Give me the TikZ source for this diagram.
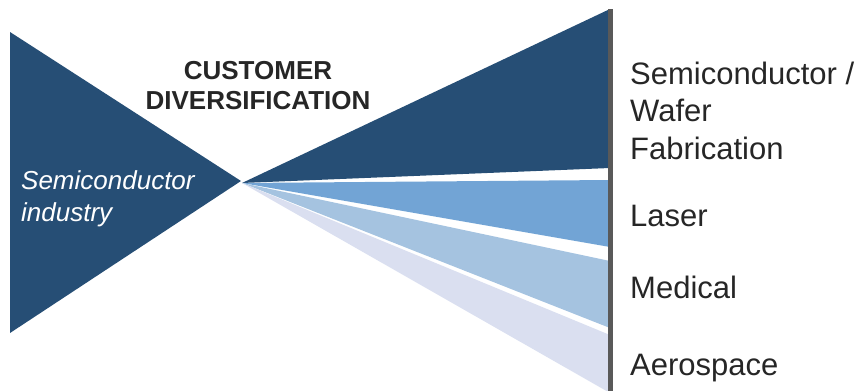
\documentclass[tikz,border=0pt]{standalone}
\usepackage{fontspec}
\setmainfont{Liberation Sans}
\definecolor{navy}{RGB}{38,78,117}
\definecolor{skyblue}{RGB}{114,164,213}
\definecolor{paleblue}{RGB}{165,195,224}
\definecolor{lavender}{RGB}{218,223,240}
\definecolor{rulegray}{RGB}{89,89,89}
\definecolor{inkgray}{RGB}{38,38,38}
\begin{document}
\begin{tikzpicture}[x=1pt,y=-1pt,
  seglabel/.style={anchor=base west,inner sep=0pt,text=inkgray,align=left,
    font=\fontsize{31}{37.5}\selectfont},
  headlabel/.style={anchor=base,inner sep=0pt,text=inkgray,align=center,
    font=\fontsize{26}{30}\selectfont\bfseries},
  sourcelabel/.style={anchor=base west,inner sep=0pt,text=white,align=left,
    font=\fontsize{26}{32}\selectfont\itshape}]
\useasboundingbox (0,0) rectangle (863,391);
\clip (0,0) rectangle (863,391);

% converging point of the bow tie
\coordinate (apex) at (242,183);

% source side
\fill[navy] (10,32) -- (241,181) -- (10,333) -- cycle;

% fanned-out segments
\fill[navy]     (apex) -- (610,9)   -- (610,168) -- cycle;
\fill[skyblue]  (apex) -- (610,180) -- (610,247) -- cycle;
\fill[paleblue] (apex) -- (610,261) -- (610,328) -- cycle;
\fill[lavender] (apex) -- (610,335) -- (610,393) -- cycle;

% divider rule
\fill[rulegray] (608,9) rectangle (613,391);

% labels (multi-line nodes are placed by the baseline of their last line)
\node[headlabel] (head) at (258,109) {CUSTOMER\\DIVERSIFICATION};
\node[sourcelabel] (source) at (21,221) {Semiconductor\\industry};
\node[seglabel] (semi) at (630,159) {Semiconductor /\\Wafer\\Fabrication};
\node[seglabel] (laser) at (630,226) {Laser};
\node[seglabel] (medical) at (630,298) {Medical};
\node[seglabel] (aero) at (630,375) {Aerospace};
\end{tikzpicture}
\end{document}
